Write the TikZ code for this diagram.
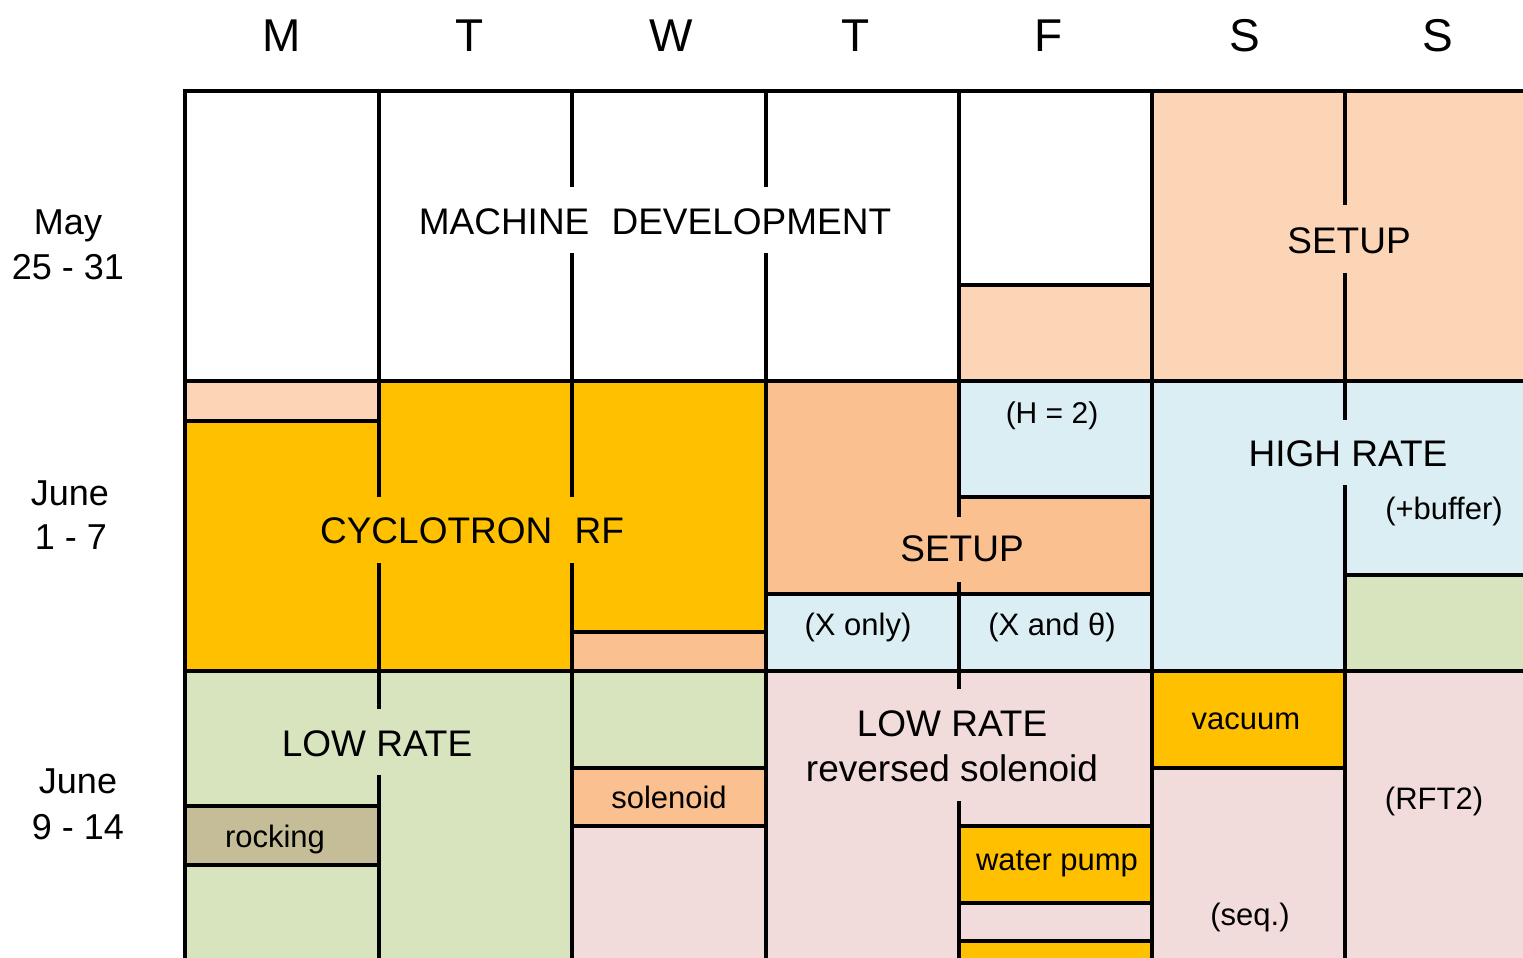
\documentclass[tikz,border=0pt]{standalone}
\usepackage{fontspec}
\setmainfont{Liberation Sans}
\definecolor{lpeach}{HTML}{FBD5B5}
\definecolor{opeach}{HTML}{FAC090}
\definecolor{gold}{HTML}{FFC000}
\definecolor{lblue}{HTML}{DAEEF3}
\definecolor{lgreen}{HTML}{D7E4BD}
\definecolor{lpink}{HTML}{F2DCDB}
\definecolor{ltan}{HTML}{C4BD97}
\begin{document}
\begin{tikzpicture}[x=1pt,y=-1pt,
  gridline/.style={line width=4.5pt, black},
  biglabel/.style={font=\fontsize{37}{44}\selectfont, inner sep=0pt, anchor=base},
  smalllabel/.style={font=\fontsize{31}{37}\selectfont, inner sep=0pt, anchor=base},
  headlabel/.style={font=\fontsize{46}{55}\selectfont, inner sep=0pt, anchor=base},
  sidelabel/.style={font=\fontsize{36}{44}\selectfont, inner sep=0pt, anchor=base},
]
\useasboundingbox (0,0) rectangle (1523,958);
\clip (0,0) rectangle (1523,958);
\fill[white] (0,0) rectangle (1523,958);

% ---- fills, row 1
\fill[lpeach] (959,285) rectangle (1152,381);
\fill[lpeach] (1152,91) rectangle (1530,381);
% ---- fills, row 2
\fill[lpeach] (185,381) rectangle (379,421);
\fill[gold] (185,421) rectangle (379,671);
\fill[gold] (379,381) rectangle (572,671);
\fill[gold] (572,381) rectangle (766,632);
\fill[opeach] (572,632) rectangle (766,671);
\fill[opeach] (766,381) rectangle (959,594);
\fill[opeach] (959,497) rectangle (1152,594);
\fill[lblue] (766,594) rectangle (1152,671);
\fill[lblue] (959,381) rectangle (1152,497);
\fill[lblue] (1152,381) rectangle (1530,575);
\fill[lblue] (1152,575) rectangle (1345,671);
\fill[lgreen] (1345,575) rectangle (1530,671);
% ---- fills, row 3
\fill[lgreen] (185,671) rectangle (572,965);
\fill[ltan] (185,806) rectangle (379,865);
\fill[lgreen] (572,671) rectangle (766,768);
\fill[opeach] (572,768) rectangle (766,826);
\fill[lpink] (572,826) rectangle (766,965);
\fill[lpink] (766,671) rectangle (1152,965);
\fill[gold] (959,826) rectangle (1152,903);
\fill[gold] (959,941) rectangle (1152,965);
\fill[gold] (1152,671) rectangle (1345,768);
\fill[lpink] (1152,768) rectangle (1530,965);
\fill[lpink] (1345,671) rectangle (1530,768);

% ---- grid lines
\draw[gridline] (183,91) -- (1530,91);
\draw[gridline] (183,381) -- (1530,381);
\draw[gridline] (183,671) -- (1530,671);
\draw[gridline] (185,89) -- (185,965);
\draw[gridline] (1152,89) -- (1152,965);
\draw[gridline] (379,91) -- (379,497);
\draw[gridline] (379,563) -- (379,709);
\draw[gridline] (379,775) -- (379,965);
\draw[gridline] (572,91) -- (572,187);
\draw[gridline] (572,253) -- (572,497);
\draw[gridline] (572,563) -- (572,965);
\draw[gridline] (766,91) -- (766,187);
\draw[gridline] (766,253) -- (766,965);
\draw[gridline] (959,91) -- (959,517);
\draw[gridline] (959,582) -- (959,689);
\draw[gridline] (959,801) -- (959,965);
\draw[gridline] (1345,91) -- (1345,205);
\draw[gridline] (1345,273) -- (1345,420);
\draw[gridline] (1345,485) -- (1345,965);
\draw[gridline] (959,285) -- (1152,285);
\draw[gridline] (185,421) -- (379,421);
\draw[gridline] (572,632) -- (766,632);
\draw[gridline] (959,497) -- (1152,497);
\draw[gridline] (766,594) -- (1152,594);
\draw[gridline] (1345,575) -- (1530,575);
\draw[gridline] (185,806) -- (379,806);
\draw[gridline] (185,865) -- (379,865);
\draw[gridline] (572,768) -- (766,768);
\draw[gridline] (572,826) -- (766,826);
\draw[gridline] (959,826) -- (1152,826);
\draw[gridline] (959,903) -- (1152,903);
\draw[gridline] (959,941) -- (1152,941);
\draw[gridline] (1152,768) -- (1345,768);

% ---- header
\node[headlabel] (hM) at (282,52) {M};
\node[headlabel] (hT) at (470,52) {T};
\node[headlabel] (hW) at (671,52) {W};
\node[headlabel] (hR) at (856,52) {T};
\node[headlabel] (hF) at (1049,52) {F};
\node[headlabel] (hSa) at (1245,52) {S};
\node[headlabel] (hSu) at (1438,52) {S};

% ---- side labels
\node[sidelabel] (w1a) at (68,234) {May};
\node[sidelabel] (w1b) at (68,279) {25 - 31};
\node[sidelabel] (w2a) at (70,505) {June};
\node[sidelabel] (w2b) at (71,549) {1 - 7};
\node[sidelabel] (w3a) at (78,793) {June};
\node[sidelabel] (w3b) at (78,839) {9 - 14};

% ---- block labels
\node[biglabel] (md) at (655,234) {MACHINE\hspace{0.6em}DEVELOPMENT};
\node[biglabel] (setup1) at (1349,253) {SETUP};
\node[biglabel] (crf) at (472,543) {CYCLOTRON\hspace{0.6em}RF};
\node[biglabel] (setup2) at (962,561) {SETUP};
\node[biglabel] (hr) at (1348,466) {HIGH RATE};
\node[biglabel] (lr1) at (377,756) {LOW RATE};
\node[biglabel] (lr2a) at (952,736) {LOW RATE};
\node[biglabel] (lr2b) at (952,781) {reversed solenoid};

\node[smalllabel, font=\fontsize{30}{36}\selectfont] (h2) at (1052,423) {(H = 2)};
\node[smalllabel] (buf) at (1444,519) {(+buffer)};
\node[smalllabel] (xo) at (858,635) {(X only)};
\node[smalllabel] (xt) at (1052,635) {(X and θ)};
\node[smalllabel] (sol) at (669,808) {solenoid};
\node[smalllabel] (rock) at (275,847) {rocking};
\node[smalllabel] (vac) at (1246,729) {vacuum};
\node[smalllabel] (wp) at (1057,870) {water pump};
\node[smalllabel] (seq) at (1250,925) {(seq.)};
\node[smalllabel] (rft) at (1434,809) {(RFT2)};
\end{tikzpicture}
\end{document}
